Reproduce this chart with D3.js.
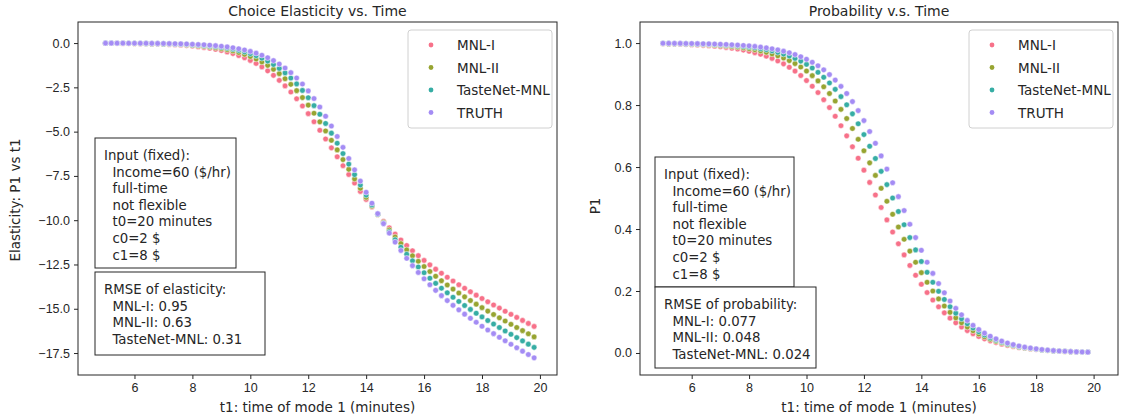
<!DOCTYPE html>
<html>
<head>
<meta charset="utf-8">
<script src="https://cdn.jsdelivr.net/npm/d3@7"></script>
<style>
    body { margin: 0; background: #fff; }
    svg { font-family: "DejaVu Sans", sans-serif; }
    .tick text { font-size: 12.5px; fill: #262626; }
    .tick line, .domain { stroke: #262626; }
</style>
</head>
<body>
<div id="chart"></div>
<script>
// t1 values (minutes), shared by both panels
var t1 = [5.0,5.2,5.4,5.6,5.8,6.0,6.2,6.4,6.6,6.8,7.0,7.2,7.4,7.6,7.8,8.0,8.2,8.4,8.6,8.8,
    9.0,9.2,9.4,9.6,9.8,10.0,10.2,10.4,10.6,10.8,11.0,11.2,11.4,11.6,11.8,12.0,12.2,12.4,12.6,12.8,
    13.0,13.2,13.4,13.6,13.8,14.0,14.2,14.4,14.6,14.8,15.0,15.2,15.4,15.6,15.8,16.0,16.2,16.4,16.6,16.8,
    17.0,17.2,17.4,17.6,17.8,18.0,18.2,18.4,18.6,18.8,19.0,19.2,19.4,19.6,19.8];

var seriesNames = ['MNL-I', 'MNL-II', 'TasteNet-MNL', 'TRUTH'];
var seriesColors = ['#f77189', '#97a431', '#36ada4', '#a48cf4'];

// elasticity of P1 wrt t1
var elasMNL1 = [-0.010,-0.012,-0.014,-0.018,-0.021,-0.026,-0.032,-0.038,-0.046,-0.056,-0.068,-0.082,-0.099,-0.119,-0.143,-0.172,-0.206,-0.247,-0.295,-0.352,
    -0.420,-0.500,-0.594,-0.703,-0.831,-0.979,-1.150,-1.346,-1.569,-1.821,-2.104,-2.418,-2.765,-3.143,-3.550,-3.985,-4.443,-4.921,-5.414,-5.915,
    -6.420,-6.923,-7.419,-7.904,-8.374,-8.826,-9.259,-9.672,-10.063,-10.434,-10.784,-11.115,-11.427,-11.723,-12.003,-12.269,-12.522,-12.764,-12.996,-13.218,
    -13.433,-13.641,-13.843,-14.039,-14.231,-14.419,-14.604,-14.785,-14.963,-15.140,-15.314,-15.487,-15.658,-15.828,-15.997];
var elasMNL2 = [-0.006,-0.008,-0.009,-0.012,-0.014,-0.017,-0.021,-0.026,-0.032,-0.038,-0.047,-0.057,-0.069,-0.083,-0.101,-0.122,-0.148,-0.178,-0.215,-0.258,
    -0.311,-0.373,-0.447,-0.534,-0.637,-0.759,-0.900,-1.066,-1.257,-1.477,-1.727,-2.012,-2.331,-2.686,-3.077,-3.503,-3.961,-4.448,-4.960,-5.489,
    -6.031,-6.580,-7.128,-7.669,-8.199,-8.712,-9.205,-9.676,-10.124,-10.547,-10.946,-11.322,-11.676,-12.008,-12.322,-12.617,-12.897,-13.163,-13.416,-13.657,
    -13.889,-14.112,-14.328,-14.537,-14.740,-14.938,-15.133,-15.323,-15.510,-15.695,-15.877,-16.057,-16.235,-16.412,-16.588];
var elasTasteNet = [-0.004,-0.005,-0.006,-0.008,-0.010,-0.012,-0.015,-0.018,-0.022,-0.027,-0.033,-0.040,-0.049,-0.060,-0.073,-0.089,-0.108,-0.131,-0.159,-0.193,
    -0.234,-0.283,-0.342,-0.412,-0.496,-0.596,-0.714,-0.854,-1.017,-1.208,-1.429,-1.684,-1.975,-2.304,-2.673,-3.083,-3.532,-4.018,-4.538,-5.085,
    -5.655,-6.240,-6.833,-7.426,-8.012,-8.584,-9.137,-9.668,-10.173,-10.651,-11.101,-11.524,-11.921,-12.292,-12.640,-12.966,-13.274,-13.564,-13.838,-14.099,
    -14.348,-14.587,-14.816,-15.037,-15.252,-15.461,-15.664,-15.863,-16.059,-16.252,-16.441,-16.629,-16.814,-16.997,-17.180];
var elasTruth = [-0.003,-0.003,-0.004,-0.005,-0.007,-0.008,-0.010,-0.012,-0.015,-0.019,-0.023,-0.029,-0.035,-0.043,-0.053,-0.065,-0.080,-0.098,-0.119,-0.146,
    -0.178,-0.216,-0.263,-0.320,-0.388,-0.470,-0.568,-0.686,-0.825,-0.989,-1.182,-1.408,-1.670,-1.971,-2.314,-2.701,-3.133,-3.610,-4.128,-4.684,
    -5.273,-5.887,-6.517,-7.157,-7.794,-8.424,-9.039,-9.630,-10.196,-10.731,-11.236,-11.709,-12.152,-12.565,-12.950,-13.309,-13.646,-13.962,-14.259,-14.540,
    -14.807,-15.061,-15.304,-15.538,-15.764,-15.984,-16.197,-16.405,-16.609,-16.809,-17.007,-17.201,-17.393,-17.584,-17.772];

// probability P1
var probMNL1 = [0.9976,0.9972,0.9967,0.9961,0.9954,0.9946,0.9937,0.9926,0.9913,0.9898,0.9880,0.9860,0.9835,0.9807,0.9774,0.9735,0.9690,0.9637,0.9576,0.9506,
    0.9424,0.9329,0.9220,0.9096,0.8953,0.8791,0.8608,0.8403,0.8173,0.7919,0.7639,0.7334,0.7006,0.6656,0.6286,0.5900,0.5504,0.5100,0.4696,0.4295,
    0.3903,0.3525,0.3165,0.2825,0.2509,0.2217,0.1950,0.1708,0.1490,0.1296,0.1124,0.0973,0.0839,0.0723,0.0621,0.0533,0.0457,0.0392,0.0335,0.0286,
    0.0245,0.0209,0.0178,0.0152,0.0129,0.0110,0.0094,0.0080,0.0068,0.0058,0.0049,0.0042,0.0036,0.0030,0.0026];
var probMNL2 = [0.9985,0.9982,0.9979,0.9975,0.9971,0.9966,0.9959,0.9952,0.9943,0.9933,0.9921,0.9906,0.9889,0.9870,0.9846,0.9818,0.9786,0.9748,0.9703,0.9650,
    0.9589,0.9518,0.9434,0.9338,0.9226,0.9097,0.8949,0.8780,0.8589,0.8373,0.8130,0.7862,0.7566,0.7243,0.6895,0.6525,0.6135,0.5730,0.5314,0.4895,
    0.4477,0.4066,0.3668,0.3287,0.2927,0.2592,0.2283,0.2000,0.1745,0.1516,0.1312,0.1133,0.0974,0.0836,0.0716,0.0612,0.0522,0.0445,0.0379,0.0322,
    0.0274,0.0232,0.0197,0.0167,0.0142,0.0120,0.0102,0.0086,0.0073,0.0062,0.0052,0.0044,0.0037,0.0032,0.0027];
var probTasteNet = [0.9991,0.9989,0.9987,0.9984,0.9981,0.9977,0.9973,0.9968,0.9962,0.9955,0.9946,0.9936,0.9924,0.9910,0.9893,0.9873,0.9849,0.9820,0.9787,0.9748,
    0.9701,0.9646,0.9582,0.9506,0.9418,0.9315,0.9195,0.9057,0.8897,0.8714,0.8507,0.8272,0.8009,0.7717,0.7396,0.7047,0.6672,0.6276,0.5861,0.5433,
    0.5000,0.4566,0.4139,0.3724,0.3327,0.2953,0.2604,0.2283,0.1991,0.1728,0.1493,0.1285,0.1102,0.0943,0.0805,0.0685,0.0582,0.0494,0.0418,0.0354,
    0.0299,0.0252,0.0213,0.0179,0.0151,0.0127,0.0107,0.0090,0.0076,0.0064,0.0054,0.0045,0.0038,0.0032,0.0027];
var probTruth = [0.9994,0.9993,0.9991,0.9990,0.9987,0.9985,0.9982,0.9978,0.9974,0.9969,0.9963,0.9956,0.9947,0.9937,0.9924,0.9910,0.9892,0.9871,0.9846,0.9816,
    0.9781,0.9739,0.9689,0.9630,0.9560,0.9478,0.9381,0.9268,0.9136,0.8983,0.8806,0.8603,0.8373,0.8112,0.7821,0.7499,0.7146,0.6766,0.6360,0.5934,
    0.5494,0.5045,0.4596,0.4153,0.3724,0.3314,0.2928,0.2569,0.2241,0.1944,0.1677,0.1441,0.1233,0.1051,0.0893,0.0757,0.0641,0.0541,0.0456,0.0384,
    0.0322,0.0271,0.0227,0.0190,0.0160,0.0134,0.0112,0.0094,0.0078,0.0066,0.0055,0.0046,0.0038,0.0032,0.0027];

var inputLines = ['Input (fixed):', '  Income=60 ($/hr)', '  full-time', '  not flexible', '  t0=20 minutes', '  c0=2 $', '  c1=8 $'];
var rmseElasLines = ['RMSE of elasticity:', '  MNL-I: 0.95', '  MNL-II: 0.63', '  TasteNet-MNL: 0.31'];
var rmseProbLines = ['RMSE of probability:', '  MNL-I: 0.077', '  MNL-II: 0.048', '  TasteNet-MNL: 0.024'];

var svg = d3.select('#chart').append('svg').attr('width', 1133).attr('height', 420);

var drawPanel = function(p) {
    var g = svg.append('g');

    var x = d3.scaleLinear().domain(p.xDomain).range([p.left, p.right]);
    var y = d3.scaleLinear().domain(p.yDomain).range([p.bottom, p.top]);

    g.append('g')
        .attr('transform', 'translate(0,' + p.bottom + ')')
        .call(d3.axisBottom(x).tickValues([6, 8, 10, 12, 14, 16, 18, 20]).tickSize(4).tickPadding(4).tickFormat(d3.format('d')));

    g.append('g')
        .attr('transform', 'translate(' + p.left + ',0)')
        .call(d3.axisLeft(y).tickValues(p.yTicks).tickSize(4).tickPadding(4).tickFormat(p.yFormat));

    g.selectAll('.domain').remove();
    g.append('rect')
        .attr('x', p.left).attr('y', p.top)
        .attr('width', p.right - p.left).attr('height', p.bottom - p.top)
        .attr('fill', 'none').attr('stroke', '#262626').attr('stroke-width', 1);

    // dots, first series at the bottom
    p.series.forEach(function(vals, i) {
        g.append('g').selectAll('circle').data(vals).enter().append('circle')
            .attr('cx', function(d, j) { return x(t1[j]); })
            .attr('cy', function(d) { return y(d); })
            .attr('r', 2.8)
            .attr('fill', seriesColors[i])
            .attr('stroke', '#fff')
            .attr('stroke-width', 0.5);
    });

    g.append('text')
        .attr('x', (p.left + p.right) / 2).attr('y', 16)
        .attr('text-anchor', 'middle').attr('font-size', 14).attr('fill', '#262626')
        .text(p.title);

    g.append('text')
        .attr('x', (p.left + p.right) / 2).attr('y', 412)
        .attr('text-anchor', 'middle').attr('font-size', 13.5).attr('fill', '#262626')
        .text('t1: time of mode 1 (minutes)');

    g.append('text')
        .attr('transform', 'translate(' + p.ylabelX + ',' + p.ylabelY + ') rotate(-90)')
        .attr('text-anchor', 'middle').attr('font-size', 13.5).attr('fill', '#262626')
        .text(p.ylabel);

    // legend
    var lg = g.append('g').attr('transform', 'translate(' + (p.right - 149) + ',' + (p.top + 8) + ')');
    lg.append('rect')
        .attr('width', 144).attr('height', 98).attr('rx', 3)
        .attr('fill', '#fff').attr('fill-opacity', 0.8)
        .attr('stroke', '#d0d0d0');
    seriesNames.forEach(function(name, i) {
        lg.append('circle').attr('cx', 23).attr('cy', 15 + i * 22.5).attr('r', 2.4)
            .attr('fill', seriesColors[i]);
        lg.append('text').attr('x', 49).attr('y', 20 + i * 22.5)
            .attr('font-size', 13.5).attr('fill', '#262626').text(name);
    });

    var textBox = function(lines, bx, by, bw, bh) {
        g.append('rect').attr('x', bx).attr('y', by).attr('width', bw).attr('height', bh)
            .attr('fill', '#fff').attr('stroke', '#262626').attr('stroke-width', 1);
        lines.forEach(function(line, i) {
            g.append('text')
                .attr('x', bx + 9).attr('y', by + 22 + i * 16.6)
                .attr('font-size', 13.3).attr('fill', '#262626')
                .style('white-space', 'pre')
                .text(line);
        });
    };
    textBox(inputLines, p.boxX, p.inputY, p.inputW, 130);
    textBox(p.rmseLines, p.boxX, p.rmseY, p.rmseW, p.rmseH);
};

drawPanel({
    left: 78, right: 557, top: 22, bottom: 375,
    xDomain: [4.05, 20.59],
    yDomain: [-18.74, 1.19],
    yTicks: [0, -2.5, -5, -7.5, -10, -12.5, -15, -17.5],
    yFormat: function(d) { return d3.format('.1f')(d).replace('-', '\u2212'); },
    title: 'Choice Elasticity vs. Time',
    ylabel: 'Elasticity: P1 vs t1', ylabelX: 20, ylabelY: 200,
    series: [elasMNL1, elasMNL2, elasTasteNet, elasTruth],
    boxX: 95, inputY: 138, inputW: 141, rmseY: 272, rmseW: 170, rmseH: 83,
    rmseLines: rmseElasLines
});

drawPanel({
    left: 640, right: 1118, top: 22, bottom: 375,
    xDomain: [4.2, 20.85],
    yDomain: [-0.071, 1.068],
    yTicks: [0, 0.2, 0.4, 0.6, 0.8, 1.0],
    yFormat: d3.format('.1f'),
    title: 'Probability v.s. Time',
    ylabel: 'P1', ylabelX: 600, ylabelY: 206,
    series: [probMNL1, probMNL2, probTasteNet, probTruth],
    boxX: 655, inputY: 157, inputW: 139, rmseY: 287, rmseW: 161, rmseH: 81,
    rmseLines: rmseProbLines
});
</script>
</body>
</html>
